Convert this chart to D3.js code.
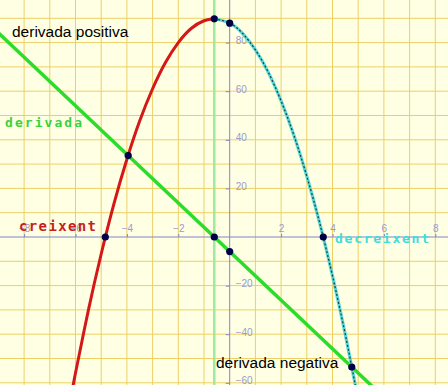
<!DOCTYPE html>
<html>
<head>
<meta charset="utf-8">
<script src="https://cdn.jsdelivr.net/npm/d3@7"></script>
<style>
    body { margin: 0; background: #fff; }
    #chart svg { display: block; }
</style>
</head>
<body>
<div id="chart"></div>
<script>
// function f(x), split at the maximum
const risingX = [-6.2, -6, -5.5, -5, -4.5, -4, -3.5, -3, -2.5, -2, -1.5, -1, -0.6];
const risingY = [-67, -56, -30.2, -7, 13.8, 32, 47.8, 61, 71.8, 80, 85.8, 89, 89.8];
const fallingX = [-0.6, 0, 0.5, 1, 1.5, 2, 2.5, 3, 3.5, 4, 4.5, 5];
const fallingY = [89.8, 88, 83.8, 77, 67.8, 56, 41.8, 25, 5.8, -16, -40.2, -67];

// derivative (straight line), two ends
const derivX = [-9.5, 6.5];
const derivY = [89, -71];

// x of the maximum (vertical green line)
const maxX = -0.6;

// marked points
const dotX = [-4.84, -3.95, -0.6, 0, -0.6, 0, 3.64, 4.75];
const dotY = [0, 33.5, 89.8, 88, 0, -6, 0, -53.5];

const xTicks = [-8, -6, -4, -2, 2, 4, 6, 8];
const yTicks = [-60, -40, -20, 20, 40, 60, 80];

const width = 448, height = 385;

const svg = d3.select("#chart").append("svg")
    .attr("width", width)
    .attr("height", height);

const x = d3.scaleLinear()
    .domain([-229.7 / 25.7, (width - 229.7) / 25.7])
    .range([0, width]);

const y = d3.scaleLinear()
    .domain([-(height - 237) / 2.43, 237 / 2.43])
    .range([height, 0]);

svg.append("rect")
    .attr("width", width)
    .attr("height", height)
    .attr("fill", "#ffffe4");

// graph paper
svg.append("g")
    .selectAll("line")
    .data(d3.range(-8, 9).filter(d => d != 0))
    .join("line")
    .attr("x1", d => x(d)).attr("x2", d => x(d))
    .attr("y1", 0).attr("y2", height)
    .attr("stroke", "#ecd066")
    .attr("stroke-width", 1);

svg.append("g")
    .selectAll("line")
    .data(d3.range(-60, 100, 10).filter(d => d != 0))
    .join("line")
    .attr("x1", 0).attr("x2", width)
    .attr("y1", d => y(d)).attr("y2", d => y(d))
    .attr("stroke", "#ecd066")
    .attr("stroke-width", 1);

// axes
svg.append("line")
    .attr("x1", 0).attr("x2", width)
    .attr("y1", y(0)).attr("y2", y(0))
    .attr("stroke", "#8484c8");
svg.append("line")
    .attr("x1", x(0)).attr("x2", x(0))
    .attr("y1", 0).attr("y2", height)
    .attr("stroke", "#8484c8");

const xAxis = svg.append("g")
    .attr("transform", `translate(0,${y(0)})`)
    .call(d3.axisTop(x).tickValues(xTicks).tickSize(3).tickPadding(2));
xAxis.select(".domain").remove();

const yAxis = svg.append("g")
    .attr("transform", `translate(${x(0)},0)`)
    .call(d3.axisLeft(y).tickValues(yTicks).tickSize(4));
yAxis.select(".domain").remove();
yAxis.selectAll("text")
    .attr("x", 6)
    .attr("dy", "0.1em")
    .attr("text-anchor", "start");

svg.selectAll(".tick line").attr("stroke", "#8484c8");
svg.selectAll(".tick text")
    .attr("fill", "#9a9ad0")
    .attr("font-family", "Liberation Sans, Arial, sans-serif")
    .attr("font-size", 10);

// vertical line at the maximum
svg.append("line")
    .attr("x1", x(maxX)).attr("x2", x(maxX))
    .attr("y1", 0).attr("y2", height)
    .attr("stroke", "#9eea9e")
    .attr("stroke-width", 2.5);

const line = d3.line()
    .x(d => x(d[0]))
    .y(d => y(d[1]))
    .curve(d3.curveNatural);

// derivative
svg.append("path")
    .datum(d3.zip(derivX, derivY))
    .attr("fill", "none")
    .attr("stroke", "#2bdc2b")
    .attr("stroke-width", 3.5)
    .attr("d", line);

// increasing part
svg.append("path")
    .datum(d3.zip(risingX, risingY))
    .attr("fill", "none")
    .attr("stroke", "#d41818")
    .attr("stroke-width", 3)
    .attr("d", line);

// decreasing part: cyan with a dark dashed line on top
const falling = d3.zip(fallingX, fallingY);
svg.append("path")
    .datum(falling)
    .attr("fill", "none")
    .attr("stroke", "#55d8d8")
    .attr("stroke-width", 3.2)
    .attr("d", line);
svg.append("path")
    .datum(falling)
    .attr("fill", "none")
    .attr("stroke", "#1a3a3a")
    .attr("stroke-width", 1.2)
    .attr("stroke-dasharray", "2,2")
    .attr("d", line);

svg.append("g")
    .selectAll("circle")
    .data(d3.zip(dotX, dotY))
    .join("circle")
    .attr("cx", d => x(d[0]))
    .attr("cy", d => y(d[1]))
    .attr("r", 3.6)
    .attr("fill", "#000048");

// labels
const plainFont = "Liberation Sans, Arial, sans-serif";
const pixelFont = "DejaVu Sans Mono, monospace";

svg.append("text")
    .attr("x", 12).attr("y", 37)
    .attr("font-family", plainFont)
    .attr("font-size", 15.5)
    .attr("fill", "#000")
    .text("derivada positiva");

svg.append("text")
    .attr("x", 216).attr("y", 368)
    .attr("font-family", plainFont)
    .attr("font-size", 15.5)
    .attr("fill", "#000")
    .text("derivada negativa");

svg.append("text")
    .attr("x", 5).attr("y", 127)
    .attr("font-family", pixelFont)
    .attr("font-weight", "bold")
    .attr("font-size", 13)
    .attr("textLength", 77)
    .attr("lengthAdjust", "spacing")
    .attr("fill", "#3ad23a")
    .text("derivada");

svg.append("text")
    .attr("x", 19).attr("y", 231)
    .attr("font-family", pixelFont)
    .attr("font-weight", "bold")
    .attr("font-size", 14)
    .attr("textLength", 77)
    .attr("lengthAdjust", "spacing")
    .attr("fill", "#c81e1e")
    .text("creixent");

svg.append("text")
    .attr("x", 335).attr("y", 243)
    .attr("font-family", pixelFont)
    .attr("font-weight", "bold")
    .attr("font-size", 13)
    .attr("textLength", 94)
    .attr("lengthAdjust", "spacing")
    .attr("fill", "#40dcdc")
    .text("decreixent");
</script>
</body>
</html>
